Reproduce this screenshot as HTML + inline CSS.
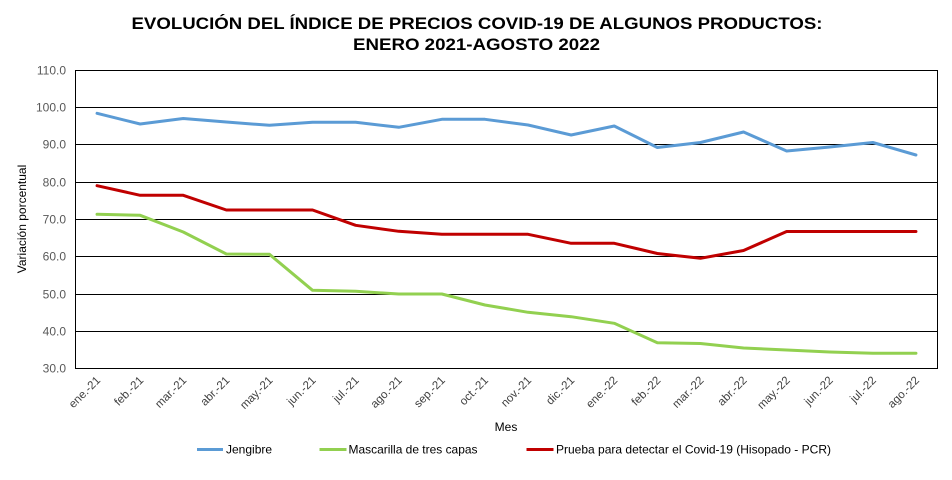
<!DOCTYPE html>
<html>
<head>
<meta charset="utf-8">
<style>
  html,body{margin:0;padding:0;background:#fff;}
  svg{display:block;}
  text{font-family:"Liberation Sans",Arial,sans-serif;}
</style>
</head>
<body>
<svg width="952" height="480" viewBox="0 0 952 480" xmlns="http://www.w3.org/2000/svg">
  <rect x="0" y="0" width="952" height="480" fill="#fff"/>
  <!-- Title -->
  <text x="477" y="29" font-size="16.5" font-weight="bold" text-anchor="middle" textLength="691" lengthAdjust="spacingAndGlyphs" fill="#000">EVOLUCIÓN DEL ÍNDICE DE PRECIOS COVID-19 DE ALGUNOS PRODUCTOS:</text>
  <text x="476.5" y="50" font-size="16.5" font-weight="bold" text-anchor="middle" textLength="247" lengthAdjust="spacingAndGlyphs" fill="#000">ENERO 2021-AGOSTO 2022</text>

  <!-- Gridlines -->
  <g stroke="#000" stroke-width="1" shape-rendering="crispEdges">
    <line x1="75.5" y1="107.5" x2="937.5" y2="107.5"/>
    <line x1="75.5" y1="144.5" x2="937.5" y2="144.5"/>
    <line x1="75.5" y1="182.5" x2="937.5" y2="182.5"/>
    <line x1="75.5" y1="219.5" x2="937.5" y2="219.5"/>
    <line x1="75.5" y1="256.5" x2="937.5" y2="256.5"/>
    <line x1="75.5" y1="294.5" x2="937.5" y2="294.5"/>
    <line x1="75.5" y1="331.5" x2="937.5" y2="331.5"/>
    <rect x="75.5" y="70.5" width="862" height="298" fill="none"/>
  </g>

  <!-- Y tick labels -->
  <g font-size="12" fill="#595959" text-anchor="end">
    <text x="66" y="74.5">110.0</text>
    <text x="66" y="111.5">100.0</text>
    <text x="66" y="148.5">90.0</text>
    <text x="66" y="186.5">80.0</text>
    <text x="66" y="223.5">70.0</text>
    <text x="66" y="260.5">60.0</text>
    <text x="66" y="298.5">50.0</text>
    <text x="66" y="335.5">40.0</text>
    <text x="66" y="372.5">30.0</text>
  </g>

  <!-- Y axis title -->
  <text transform="translate(26,219) rotate(-90)" font-size="12" text-anchor="middle" fill="#000">Variación porcentual</text>

  <!-- X tick labels -->
  <g font-size="11.5" fill="#404040" text-anchor="end">
    <text transform="translate(101,381) rotate(-45)">ene.-21</text>
    <text transform="translate(144.1,381) rotate(-45)">feb.-21</text>
    <text transform="translate(187.2,381) rotate(-45)">mar.-21</text>
    <text transform="translate(230.3,381) rotate(-45)">abr.-21</text>
    <text transform="translate(273.4,381) rotate(-45)">may.-21</text>
    <text transform="translate(316.5,381) rotate(-45)">jun.-21</text>
    <text transform="translate(359.6,381) rotate(-45)">jul.-21</text>
    <text transform="translate(402.7,381) rotate(-45)">ago.-21</text>
    <text transform="translate(445.8,381) rotate(-45)">sep.-21</text>
    <text transform="translate(488.9,381) rotate(-45)">oct.-21</text>
    <text transform="translate(532,381) rotate(-45)">nov.-21</text>
    <text transform="translate(575.1,381) rotate(-45)">dic.-21</text>
    <text transform="translate(618.2,381) rotate(-45)">ene.-22</text>
    <text transform="translate(661.3,381) rotate(-45)">feb.-22</text>
    <text transform="translate(704.4,381) rotate(-45)">mar.-22</text>
    <text transform="translate(747.5,381) rotate(-45)">abr.-22</text>
    <text transform="translate(790.6,381) rotate(-45)">may.-22</text>
    <text transform="translate(833.7,381) rotate(-45)">jun.-22</text>
    <text transform="translate(876.8,381) rotate(-45)">jul.-22</text>
    <text transform="translate(919.9,381) rotate(-45)">ago.-22</text>
  </g>

  <!-- X axis title -->
  <text x="506" y="431" font-size="12" text-anchor="middle" fill="#000">Mes</text>

  <!-- Series -->
  <g fill="none" stroke-width="3" stroke-linejoin="round" stroke-linecap="round">
    <polyline stroke="#5B9BD5" points="97.05,113.3 140.15,124 183.25,118.5 226.35,122 269.45,125.3 312.55,122.3 355.65,122.3 398.75,127.3 441.85,119.3 484.95,119.3 528.05,125 571.15,135 614.25,126 657.35,147.5 700.45,142.5 743.55,132 786.65,151 829.75,147 872.85,142.5 915.95,155"/>
    <polyline stroke="#92D050" points="97.05,214.3 140.15,215.3 183.25,232 226.35,254 269.45,254.3 312.55,290.3 355.65,291.3 398.75,294 441.85,294 484.95,305 528.05,312.3 571.15,316.7 614.25,323.3 657.35,342.7 700.45,343.5 743.55,348 786.65,350 829.75,352 872.85,353.3 915.95,353.3"/>
    <polyline stroke="#C00000" points="97.05,185.7 140.15,195.3 183.25,195.3 226.35,210 269.45,210 312.55,210 355.65,225.3 398.75,231.3 441.85,234.3 484.95,234.3 528.05,234.3 571.15,243.3 614.25,243.3 657.35,253.5 700.45,258.3 743.55,250.5 786.65,231.5 829.75,231.5 872.85,231.5 915.95,231.5"/>
  </g>

  <!-- Legend -->
  <g stroke-width="3">
    <line x1="197" y1="449.5" x2="223" y2="449.5" stroke="#5B9BD5"/>
    <line x1="319.5" y1="449.5" x2="346.5" y2="449.5" stroke="#92D050"/>
    <line x1="526.5" y1="449.5" x2="553.5" y2="449.5" stroke="#C00000"/>
  </g>
  <g font-size="12" fill="#000">
    <text x="226" y="453.5">Jengibre</text>
    <text x="348.5" y="453.5" textLength="129" lengthAdjust="spacingAndGlyphs">Mascarilla de tres capas</text>
    <text x="556" y="453.5" textLength="275" lengthAdjust="spacingAndGlyphs">Prueba para detectar el Covid-19 (Hisopado - PCR)</text>
  </g>
</svg>
</body>
</html>
